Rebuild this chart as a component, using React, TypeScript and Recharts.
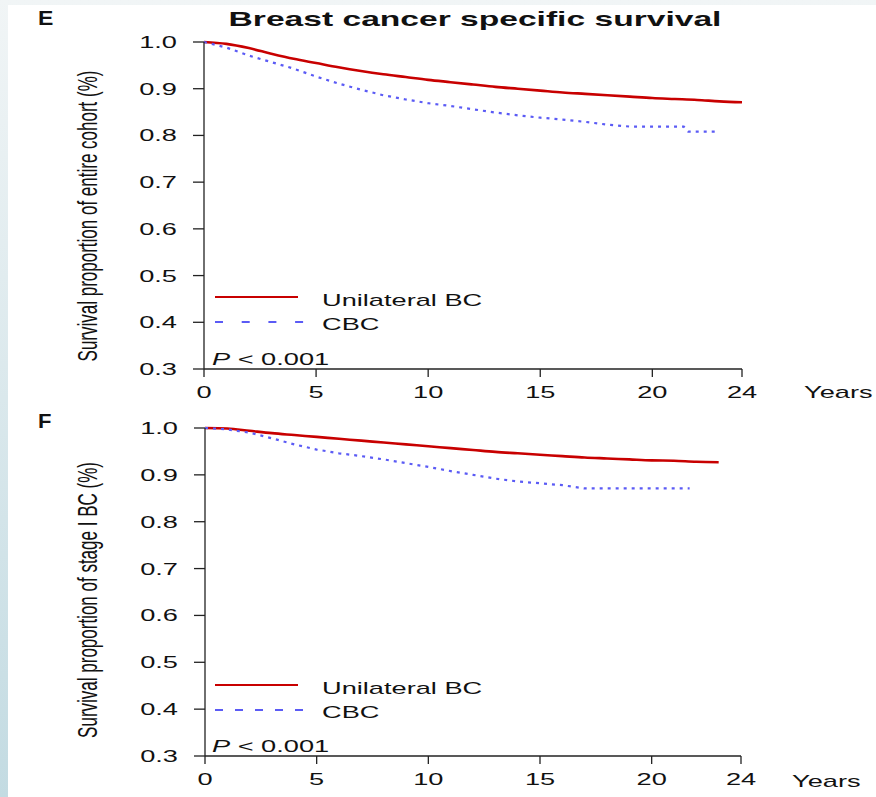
import React from 'react';
import { LineChart, Line, XAxis, YAxis } from 'recharts';

const FONT = '"Liberation Sans", Arial, Helvetica, sans-serif';
// the source figure is stretched sideways, so text is widened to match
const SX = 1.6;
const INK = '#111';
const RED = '#c80000';
const BLUE = '#5b5bf5';

const yTicks = [0.3, 0.4, 0.5, 0.6, 0.7, 0.8, 0.9, 1.0];
const xTicks = [0, 5, 10, 15, 20, 24];

// E: entire cohort
const eUniYears = [0, 1, 2, 3, 4, 5, 6, 7, 8, 9, 10, 11, 12, 13, 14, 15, 16, 17, 18, 19, 20, 21, 22, 23, 24];
const eUniSurv = [1, 0.996, 0.987, 0.975, 0.964, 0.955, 0.946, 0.938, 0.931, 0.925, 0.919, 0.914, 0.909, 0.904, 0.9, 0.896, 0.892, 0.889, 0.886, 0.883, 0.88, 0.878, 0.876, 0.873, 0.871];
const eCbcYears = [0, 1, 2, 3, 4, 5, 6, 7, 8, 9, 10, 11, 12, 13, 14, 15, 16, 17, 18, 19, 20, 21, 21.4, 21.6, 23];
const eCbcSurv = [1, 0.988, 0.971, 0.957, 0.943, 0.926, 0.911, 0.898, 0.886, 0.877, 0.869, 0.863, 0.856, 0.849, 0.843, 0.838, 0.834, 0.829, 0.823, 0.819, 0.819, 0.819, 0.819, 0.808, 0.808];

// F: stage I
const fUniYears = [0, 1, 2, 3, 4, 5, 6, 7, 8, 9, 10, 11, 12, 13, 14, 15, 16, 17, 18, 19, 20, 21, 22, 23];
const fUniSurv = [1, 0.999, 0.994, 0.989, 0.985, 0.981, 0.977, 0.973, 0.969, 0.965, 0.961, 0.957, 0.953, 0.949, 0.946, 0.943, 0.94, 0.937, 0.935, 0.933, 0.931, 0.93, 0.928, 0.927];
const fCbcYears = [0, 1, 2, 3, 4, 5, 6, 7, 8, 9, 10, 11, 12, 13, 14, 15, 16, 17, 18, 19, 20, 21, 21.7];
const fCbcSurv = [1, 0.997, 0.99, 0.978, 0.965, 0.954, 0.946, 0.94, 0.933, 0.925, 0.917, 0.908, 0.9, 0.892, 0.886, 0.882, 0.878, 0.871, 0.871, 0.871, 0.871, 0.871, 0.871];

const toPoints = (years: number[], surv: number[]) => years.map((t, i) => ({ t, s: surv[i] }));

function StretchText({ x, y, children, size = 17, weight = 'normal', anchor = 'start', sx = SX }: any) {
  return (
    <text
      transform={`translate(${x},${y}) scale(${sx},1)`}
      fontSize={size}
      fontWeight={weight}
      textAnchor={anchor}
      fontFamily={FONT}
      fill={INK}
    >
      {children}
    </text>
  );
}

const YTick = ({ x, y, payload }: any) => (
  <StretchText x={x} y={y + 6} anchor="end">
    {Number(payload.value).toFixed(1)}
  </StretchText>
);

const XTick = ({ x, y, payload }: any) => (
  <StretchText x={x} y={y + 12} anchor="middle">
    {payload.value}
  </StretchText>
);

const axisStyle = { stroke: '#222', strokeWidth: 1.3 };

interface PanelProps {
  top: number;
  height: number;
  marginTop: number;
  yAxisWidth: number;
  xAxisHeight: number;
  rightMargin: number;
  uni: { t: number; s: number }[];
  cbc: { t: number; s: number }[];
}

function SurvivalPanel({ top, height, marginTop, yAxisWidth, xAxisHeight, rightMargin, uni, cbc }: PanelProps) {
  return (
    <div style={{ position: 'absolute', left: 0, top }}>
      <LineChart width={876} height={height} margin={{ top: marginTop, right: rightMargin, bottom: 0, left: 0 }}>
        <XAxis
          type="number"
          dataKey="t"
          domain={[0, 24]}
          ticks={xTicks}
          interval={0}
          height={xAxisHeight}
          axisLine={axisStyle}
          tickLine={axisStyle}
          tickSize={8}
          tickMargin={9}
          tick={<XTick />}
        />
        <YAxis
          type="number"
          domain={[0.3, 1]}
          ticks={yTicks}
          interval={0}
          width={yAxisWidth}
          axisLine={axisStyle}
          tickLine={axisStyle}
          tickSize={11}
          tickMargin={16}
          tick={<YTick />}
        />
        <Line
          data={uni}
          dataKey="s"
          type="monotone"
          stroke={RED}
          strokeWidth={2.6}
          dot={false}
          activeDot={false}
          isAnimationActive={false}
        />
        <Line
          data={cbc}
          dataKey="s"
          type="linear"
          stroke={BLUE}
          strokeWidth={2.2}
          strokeDasharray="3 5"
          dot={false}
          activeDot={false}
          isAnimationActive={false}
        />
      </LineChart>
    </div>
  );
}

function LegendBlock({ y, dash }: { y: number; dash: string }) {
  return (
    <g>
      <line x1={215} x2={298} y1={y} y2={y} stroke={RED} strokeWidth={2} />
      <StretchText x={322} y={y + 9}>Unilateral BC</StretchText>
      <line x1={215} x2={304} y1={y + 25} y2={y + 25} stroke={BLUE} strokeWidth={2} strokeDasharray={dash} />
      <StretchText x={322} y={y + 33}>CBC</StretchText>
    </g>
  );
}

function PValue({ y }: { y: number }) {
  return (
    <text transform={`translate(212,${y}) scale(${SX},1)`} fontSize={17} fontFamily={FONT} fill={INK}>
      <tspan fontStyle="italic">P</tspan>
      <tspan>{' < 0.001'}</tspan>
    </text>
  );
}

function YLabel({ x, y, children }: any) {
  return (
    <text
      transform={`translate(${x},${y}) scale(${SX},1) rotate(-90)`}
      fontSize={17}
      textAnchor="middle"
      fontFamily={FONT}
      fill={INK}
    >
      {children}
    </text>
  );
}

export default function App() {
  return (
    <div
      style={{
        position: 'absolute',
        left: 0,
        top: 0,
        width: 876,
        height: 797,
        overflow: 'hidden',
        background: 'linear-gradient(#f1f5f6, #c3dbe2)',
      }}
    >
      <div style={{ position: 'absolute', left: 8, top: 5, width: 868, height: 792, background: '#fff' }} />

      <SurvivalPanel
        top={0}
        height={410}
        marginTop={42}
        yAxisWidth={204}
        xAxisHeight={41}
        rightMargin={134}
        uni={toPoints(eUniYears, eUniSurv)}
        cbc={toPoints(eCbcYears, eCbcSurv)}
      />
      <SurvivalPanel
        top={390}
        height={400}
        marginTop={38}
        yAxisWidth={205}
        xAxisHeight={34}
        rightMargin={135}
        uni={toPoints(fUniYears, fUniSurv)}
        cbc={toPoints(fCbcYears, fCbcSurv)}
      />

      <svg width={876} height={797} style={{ position: 'absolute', left: 0, top: 0, pointerEvents: 'none' }}>
        <StretchText x={38} y={25} size={20} weight="bold" sx={1.15}>E</StretchText>
        <StretchText x={475} y={26} size={21} weight="bold" anchor="middle">Breast cancer specific survival</StretchText>
        <YLabel x={97} y={216}>Survival proportion of entire cohort (%)</YLabel>
        <LegendBlock y={297} dash="8 18.7" />
        <PValue y={365} />
        <StretchText x={804} y={398}>Years</StretchText>

        <StretchText x={38} y={428} size={20} weight="bold" sx={1.1}>F</StretchText>
        <YLabel x={97} y={600}>Survival proportion of stage I BC (%)</YLabel>
        <LegendBlock y={685} dash="8 12" />
        <PValue y={752} />
        <StretchText x={792} y={787}>Years</StretchText>
      </svg>
    </div>
  );
}
